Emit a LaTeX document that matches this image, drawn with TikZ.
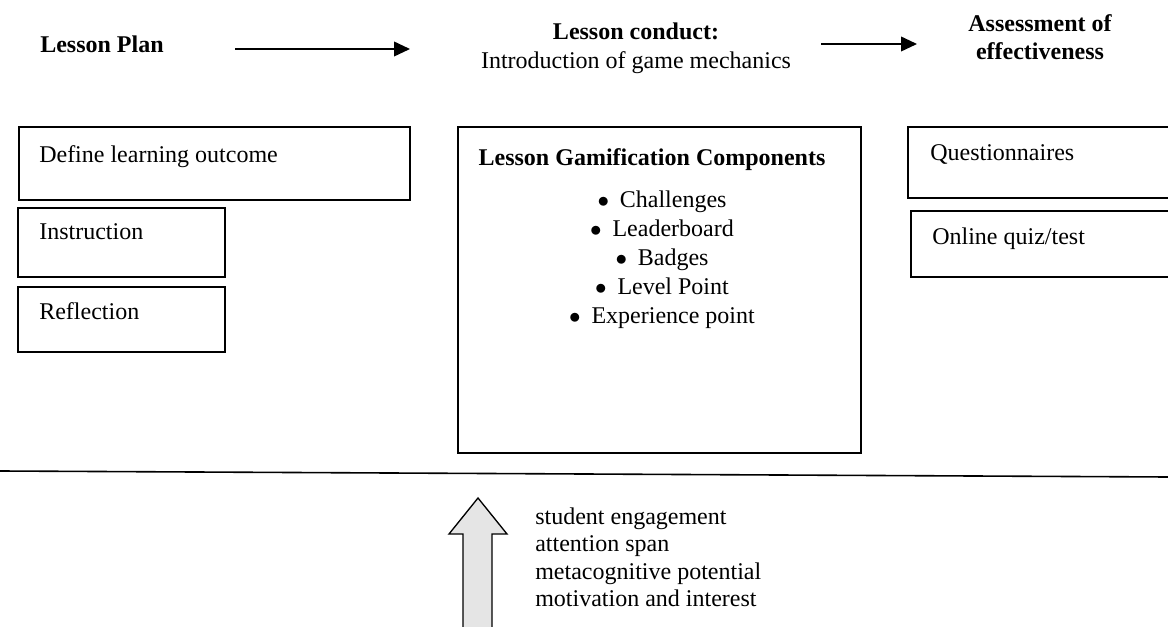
\documentclass[tikz,border=0pt]{standalone}
\usepackage{fontspec}
\setmainfont{Liberation Serif}
\usetikzlibrary{arrows.meta}
\tikzset{
  box/.style={draw, line width=1.2pt, rectangle, inner sep=0pt},
  lbl/.style={anchor=base west, inner sep=0pt, font=\fontsize{18pt}{21pt}\selectfont},
  hd/.style={anchor=base, inner sep=0pt, font=\fontsize{18pt}{21pt}\selectfont},
  bhd/.style={hd, font=\fontsize{18pt}{21pt}\selectfont\bfseries},
  flow/.style={line width=1.3pt, -{Triangle[length=12pt,width=11pt]}},
}
\begin{document}
\begin{tikzpicture}[x=0.75pt,y=-0.75pt]
\useasboundingbox (0,0) rectangle (1168,627);
\clip (0,0) rectangle (1168,627);
% headers
\node[bhd] (plan) at (102,52.5) {Lesson Plan};
\node[bhd] (conduct) at (636,39.5) {Lesson conduct:};
\node[hd] (intro) at (636,68.5) {Introduction of game mechanics};
\node[bhd] (assess1) at (1040,31.5) {Assessment of};
\node[bhd] (assess2) at (1040,59.5) {effectiveness};
\coordinate (a1s) at (235,49); \coordinate (a1e) at (410,49);
\coordinate (a2s) at (821,44); \coordinate (a2e) at (917,44);
\draw[flow] (a1s) -- (a1e);
\draw[flow] (a2s) -- (a2e);
% left boxes
\node[box, minimum width={391*0.75pt}, minimum height={73*0.75pt}] (define) at (214.5,163.5) {};
\node[lbl] (definet) at (39,163) {Define learning outcome};
\node[box, minimum width={207*0.75pt}, minimum height={69*0.75pt}] (instr) at (121.5,242.5) {};
\node[lbl] (instrt) at (39,240) {Instruction};
\node[box, minimum width={207*0.75pt}, minimum height={65*0.75pt}] (refl) at (121.5,319.5) {};
\node[lbl] (reflt) at (39,320) {Reflection};
% center box
\node[box, minimum width={403*0.75pt}, minimum height={326*0.75pt}] (gam) at (659.5,290) {};
\node[bhd] (gamt) at (652,166) {Lesson Gamification Components};
\foreach \t [count=\i] in {Challenges,Leaderboard,Badges,Level Point,Experience point}{
  \node[hd] (item\i) at (662,{179+29*\i}) {$\bullet$\hspace{0.45em}\t};
}
% right boxes
\node[box, minimum width={300*0.75pt}, minimum height={71*0.75pt}] (quest) at (1058,162.5) {};
\node[lbl] (questt) at (930,161) {Questionnaires};
\node[box, minimum width={300*0.75pt}, minimum height={66*0.75pt}] (quiz) at (1061,244) {};
\node[lbl] (quizt) at (932,245) {Online quiz/test};
% separator line
\coordinate (l1) at (0,471); \coordinate (l2) at (1168,477);
\draw[line width=1.2pt] (l1) -- (l2);
% block arrow
\draw[line width=1pt, fill=black!10, line join=miter]
  (463,640) -- (463,534) -- (449,534) -- (478,498) -- (507,534) -- (492,534) -- (492,640);
\node[lbl] (e1) at (535,524) {student engagement};
\node[lbl] (e2) at (535,551.5) {attention span};
\node[lbl] (e3) at (535,579) {metacognitive potential};
\node[lbl] (e4) at (535,606.5) {motivation and interest};
\end{tikzpicture}
\end{document}
